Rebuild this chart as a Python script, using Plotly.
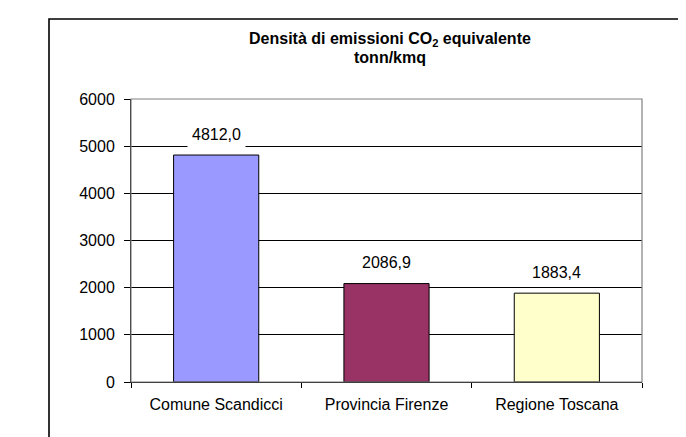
import plotly.graph_objects as go

categories = ["Comune Scandicci", "Provincia Firenze", "Regione Toscana"]
values = [4812.0, 2086.9, 1883.4]
bar_colors = ["#9999FF", "#993366", "#FFFFCC"]
y_ticks = [0, 1000, 2000, 3000, 4000, 5000, 6000]
title_lines = ["Densità di emissioni CO<sub>2</sub> equivalente", "tonn/kmq"]

W, H = 686, 437
OFF = 8  # page body margin offset
L, T = 131 - OFF, 99 - OFF
R = W - (642 - OFF)
B = H - (382 - OFF)
pw, ph = W - L - R, H - T - B

fig = go.Figure()
fig.add_trace(go.Bar(
    x=categories, y=values,
    marker=dict(color=bar_colors, line=dict(color="black", width=1)),
    hoverinfo="skip",
))

font = "Liberation Sans, Arial, sans-serif"
for c, v in zip(categories, values):
    fig.add_annotation(
        x=c, y=v, xref="x", yref="y",
        text=f"{v:.1f}".replace(".", ","),
        showarrow=False, yanchor="middle", yshift=21,
        bgcolor="white", borderpad=4,
        font=dict(family=font, size=16, color="black"),
    )


def px_x(x):
    return (x - OFF - L) / pw


def px_y(y):
    return (H - B - (y - OFF)) / ph


# title lines
for line, yc in zip(title_lines, [39, 57]):
    fig.add_annotation(
        x=px_x(390), y=px_y(yc), xref="paper", yref="paper",
        text=f"<b>{line}</b>", showarrow=False,
        xanchor="center", yanchor="middle",
        font=dict(family=font, size=16, color="black"),
    )

# outer chart frame
fig.add_shape(type="rect", xref="paper", yref="paper",
              x0=px_x(49), x1=px_x(740), y0=px_y(470), y1=px_y(19),
              line=dict(color="black", width=1.6), fillcolor="rgba(0,0,0,0)")
# plot-area border (gray)
fig.add_shape(type="rect", xref="paper", yref="paper",
              x0=0, x1=1, y0=0, y1=1, layer="above",
              line=dict(color="#808080", width=1.2), fillcolor="rgba(0,0,0,0)")

fig.update_layout(
    width=W, height=H,
    margin=dict(l=L, r=R, t=T, b=B),
    paper_bgcolor="white", plot_bgcolor="white",
    showlegend=False, bargap=0.5,
    font=dict(family=font, size=16, color="black"),
)
fig.update_xaxes(
    showline=True, linecolor="black", linewidth=1,
    ticks="outside", tickson="boundaries", ticklen=5, tickcolor="black",
    ticklabelstandoff=8, showgrid=False,
    tickfont=dict(family=font, size=16, color="black"),
)
fig.update_yaxes(
    range=[0, 6000], tickvals=y_ticks,
    showline=True, linecolor="black", linewidth=1,
    ticks="outside", ticklen=6, tickcolor="black",
    showgrid=True, gridcolor="black", gridwidth=1,
    zeroline=False, ticklabelstandoff=6,
    tickfont=dict(family=font, size=16, color="black"),
)

fig.write_html("out.html")
